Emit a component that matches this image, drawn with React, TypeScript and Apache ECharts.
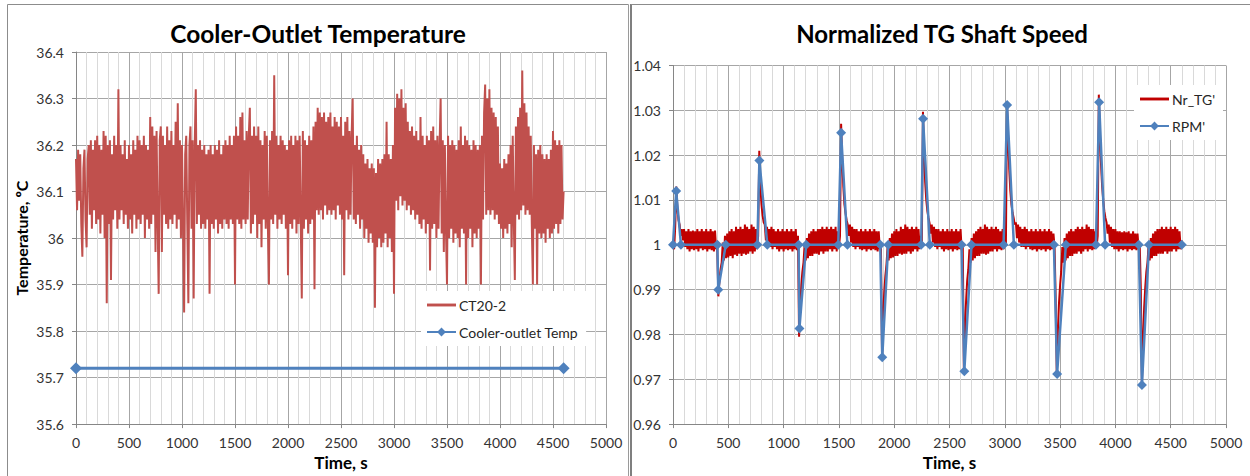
import React, { useEffect, useRef } from "react";
import * as echarts from "echarts";

// ---------- data ----------
const xTicks = { min: 0, max: 5000, interval: 500 };
const sampleStep = 10; // seconds between samples of the measured traces

// CT20-2 (°C), one sample every 10 s from t = 0 to 4600 s (rows of 100 s)
const ct20Values = [
  36.17, 36.06, 36.19, 36.08, 36.18, 36.03, 35.96, 36.15, 36.19, 36.04,
  35.98, 36.17, 36.2, 36.05, 36.21, 36.02, 36.19, 36.06, 36.21, 36.03,
  36.22, 36.04, 36.2, 36.01, 36.19, 36.05, 36.23, 36.0, 36.22, 35.86,
  36.2, 36.03, 36.21, 35.91, 36.18, 36.04, 36.22, 36.06, 36.2, 36.02,
  36.32, 36.04, 36.2, 36.06, 36.18, 36.03, 36.21, 36.05, 36.17, 36.02,
  36.2, 36.04, 36.18, 36.01, 36.21, 36.05, 36.19, 36.02, 36.22, 36.04,
  36.21, 36.03, 36.2, 36.05, 36.22, 36.0, 36.2, 36.04, 36.19, 36.02,
  36.26, 36.03, 36.24, 36.05, 36.22, 35.97, 36.23, 36.04, 35.88, 36.21,
  36.24, 35.97, 36.22, 36.05, 36.2, 36.03, 36.24, 36.02, 36.21, 36.04,
  36.23, 36.03, 36.2, 36.05, 36.25, 36.02, 36.29, 36.04, 36.21, 36.0,
  36.2, 36.02, 35.84, 36.18, 36.22, 36.03, 35.86, 36.2, 36.24, 36.02,
  36.21, 35.87, 36.2, 36.32, 36.03, 36.2, 36.05, 36.21, 36.02, 36.19,
  36.03, 36.2, 36.02, 36.18, 36.04, 36.19, 35.88, 36.2, 36.03, 36.18,
  36.02, 36.2, 36.04, 36.19, 36.01, 36.21, 36.03, 36.18, 36.02, 36.2,
  36.04, 36.21, 36.03, 36.2, 36.02, 36.22, 36.04, 36.2, 36.03, 36.22,
  35.9, 36.24, 36.04, 36.22, 36.03, 36.26, 36.02, 36.27, 36.04, 36.21,
  36.03, 36.23, 36.04, 36.22, 36.28, 36.01, 36.22, 36.03, 36.24, 36.05,
  36.22, 36.0, 36.24, 36.03, 36.21, 35.98, 36.2, 36.04, 36.23, 36.02,
  36.22, 36.03, 35.9, 36.21, 36.04, 36.23, 36.03, 36.35, 36.05, 36.22,
  36.02, 36.2, 36.04, 36.22, 36.03, 36.21, 36.05, 36.2, 36.02, 36.19,
  35.92, 36.21, 36.03, 36.22, 36.02, 36.2, 36.04, 36.22, 36.01, 36.21,
  36.03, 36.22, 36.04, 35.87, 36.23, 36.02, 36.21, 36.04, 36.2, 36.01,
  36.22, 36.03, 36.21, 36.04, 36.24, 35.89, 36.25, 36.06, 36.28, 36.05,
  36.27, 36.06, 36.26, 36.04, 36.27, 36.07, 36.25, 36.05, 36.26, 36.06,
  36.27, 36.05, 36.24, 36.06, 36.26, 36.04, 36.25, 36.07, 36.24, 36.05,
  36.26, 36.04, 36.22, 35.92, 36.25, 36.06, 36.26, 36.04, 36.23, 36.05,
  36.22, 36.3, 36.04, 36.2, 36.03, 36.22, 36.05, 36.19, 36.02, 36.2,
  36.04, 36.18, 36.0, 36.16, 36.02, 36.17, 35.99, 36.15, 36.01, 36.16,
  35.99, 36.15, 35.85, 36.14, 35.98, 36.17, 36.0, 36.16, 35.98, 36.17,
  35.99, 36.18, 36.01, 36.25, 35.98, 36.18, 36.0, 36.17, 35.97, 36.2,
  35.88, 36.28, 36.08, 36.31, 36.06, 36.3, 36.09, 36.32, 36.07, 36.28,
  36.08, 36.29, 36.06, 36.25, 36.07, 36.23, 36.05, 36.24, 36.06, 36.22,
  36.04, 36.23, 36.05, 36.21, 36.03, 36.26, 36.02, 36.22, 36.04, 36.2,
  36.01, 36.22, 36.03, 36.21, 35.93, 36.23, 36.02, 36.24, 36.03, 36.21,
  36.0, 36.22, 36.02, 36.2, 36.3, 36.01, 36.21, 35.97, 36.2, 36.02,
  35.9, 36.22, 36.0, 36.2, 36.02, 36.21, 35.99, 36.2, 36.01, 36.19,
  36.0, 36.21, 35.98, 36.24, 36.02, 36.2, 36.01, 36.22, 35.9, 36.21,
  36.0, 36.2, 36.02, 36.19, 35.98, 36.21, 36.01, 36.2, 36.0, 36.19,
  36.02, 36.2, 35.9, 36.22, 36.04, 36.27, 36.33, 36.05, 36.3, 36.06,
  36.32, 36.05, 36.28, 36.06, 36.27, 36.04, 36.26, 36.05, 36.24, 36.03,
  36.16, 36.02, 36.15, 36.0, 36.17, 36.02, 36.16, 36.01, 36.18, 36.03,
  36.2, 35.98, 36.22, 36.04, 35.91, 36.24, 36.05, 36.26, 36.04, 36.28,
  36.06, 36.36, 36.07, 36.29, 36.05, 36.27, 36.06, 36.24, 36.05, 36.22,
  36.03, 35.9, 36.2, 36.02, 36.18, 35.9, 36.19, 36.01, 36.2, 36.0,
  36.18, 36.01, 36.17, 35.99, 36.18, 36.02, 36.17, 36.0, 36.19, 36.01,
  36.23, 36.02, 36.21, 36.03, 36.2, 36.01, 36.21, 36.03, 36.2, 36.04,
  36.1,
];

// Cooler-outlet Temp (°C)
const coolerTimes = [0, 4600];
const coolerValues = [35.72, 35.72];

// Nr_TG' (normalised), one sample every 10 s from t = 0 to 4600 s (rows of 100 s)
const nrTgValues = [
  1.001, 0.999, 1.004, 1.013, 1.008, 1.0055, 1.0045, 1.002, 1.0035, 1.001,
  1.0035, 0.9995, 1.003, 0.999, 1.0035, 0.9985, 1.003, 0.999, 1.0032, 0.9988,
  1.003, 0.999, 1.0035, 0.9985, 1.003, 0.9992, 1.0035, 0.9988, 1.003, 0.999,
  1.0035, 0.9985, 1.003, 0.999, 1.0035, 0.9988, 1.003, 0.9985, 1.0032, 0.999,
  0.9995, 0.9885, 0.992, 0.9945, 0.996, 1.0005, 0.9965, 1.002, 0.997, 1.0025,
  0.9972, 1.003, 0.9975, 1.0035, 0.997, 1.003, 0.9978, 1.004, 0.9975, 1.0035,
  0.998, 1.004, 0.9975, 1.0035, 0.998, 1.0045, 0.9978, 1.004, 0.998, 1.0035,
  0.9985, 1.0045, 0.998, 1.004, 0.9985, 1.0035, 0.999, 1.002, 1.021, 1.013,
  1.009, 1.0065, 1.005, 1.0045, 1.001, 1.004, 1.0, 1.0035, 0.9995, 1.004,
  0.999, 1.0035, 0.9995, 1.003, 0.999, 1.0035, 0.9985, 1.003, 0.999, 1.0035,
  0.9985, 1.003, 0.999, 1.0035, 0.9988, 1.003, 0.999, 1.0035, 0.9985, 1.003,
  0.999, 1.0035, 0.9988, 1.002, 0.9795, 0.986, 0.991, 0.994, 0.996, 1.0,
  0.9965, 1.0015, 0.997, 1.0025, 0.9975, 1.003, 0.9975, 1.0035, 0.998, 1.003,
  0.998, 1.0035, 0.9978, 1.0035, 0.9985, 1.004, 0.998, 1.0035, 0.9985, 1.004,
  0.9985, 1.0035, 0.999, 1.004, 0.9985, 1.0035, 0.999, 1.004, 0.9985, 1.003,
  0.9995, 1.002, 1.027, 1.019, 1.013, 1.009, 1.007, 1.0055, 1.0045, 1.002,
  1.0045, 1.0005, 1.004, 0.9995, 1.0035, 0.999, 1.0035, 0.9995, 1.003, 0.999,
  1.0035, 0.9988, 1.003, 0.999, 1.0035, 0.9985, 1.003, 0.999, 1.0035, 0.9988,
  1.003, 0.999, 1.0035, 0.9988, 1.003, 0.9985, 1.003, 0.999, 1.0, 0.975,
  0.984, 0.9895, 0.993, 0.9955, 0.9995, 0.9965, 1.0015, 0.997, 1.0025, 0.9972,
  1.003, 0.9975, 1.0035, 0.9975, 1.003, 0.998, 1.004, 0.9978, 1.0035, 0.998,
  1.0045, 0.998, 1.004, 0.9985, 1.0035, 0.998, 1.004, 0.9985, 1.0035, 0.999,
  1.004, 0.9985, 1.0035, 0.999, 1.002, 1.0, 1.0297, 1.021, 1.014, 1.01,
  1.0075, 1.006, 1.0048, 1.0025, 1.0045, 1.0005, 1.004, 0.9995, 1.0035, 0.999,
  1.0035, 0.9995, 1.003, 0.999, 1.0035, 0.9985, 1.003, 0.999, 1.0035, 0.9988,
  1.003, 0.999, 1.0035, 0.9985, 1.003, 0.999, 1.0035, 0.9988, 1.003, 0.999,
  1.0035, 0.9988, 1.0, 0.972, 0.981, 0.9875, 0.992, 0.9945, 0.999, 0.996,
  1.0015, 0.9965, 1.0025, 0.997, 1.003, 0.9975, 1.0035, 0.9975, 1.004, 0.998,
  1.0035, 0.998, 1.0045, 0.9978, 1.004, 0.998, 1.0035, 0.9985, 1.004, 0.9985,
  1.0035, 0.999, 1.004, 0.9985, 1.0035, 0.999, 1.003, 0.9988, 1.0035, 0.999,
  1.002, 1.0, 1.031, 1.024, 1.017, 1.012, 1.009, 1.0072, 1.006, 1.0045,
  1.005, 1.0015, 1.0045, 1.0005, 1.004, 0.9995, 1.0035, 0.9995, 1.004, 0.999,
  1.0035, 0.9995, 1.003, 0.999, 1.0035, 0.9988, 1.003, 0.999, 1.0035, 0.9985,
  1.003, 0.999, 1.0035, 0.9988, 1.003, 0.999, 1.0035, 0.9985, 1.003, 0.999,
  1.0035, 0.9988, 1.003, 0.999, 1.0025, 0.9995, 0.988, 0.9712, 0.981, 0.987,
  0.991, 0.994, 0.9995, 0.996, 1.0015, 0.9965, 1.0025, 0.997, 1.003, 0.9975,
  1.0035, 0.9975, 1.003, 0.998, 1.0035, 0.998, 1.004, 0.9985, 1.0035, 0.998,
  1.004, 0.9985, 1.0035, 0.999, 1.0045, 0.9985, 1.004, 0.999, 1.0035, 0.9988,
  1.0035, 0.999, 1.003, 0.9995, 1.002, 1.0335, 1.025, 1.018, 1.013, 1.01,
  1.0075, 1.006, 1.005, 1.0025, 1.0045, 1.0005, 1.004, 0.9995, 1.0035, 0.999,
  1.0035, 0.999, 1.003, 0.9985, 1.003, 0.999, 1.0028, 0.9988, 1.003, 0.999,
  1.0028, 0.9985, 1.003, 0.999, 1.0025, 0.9988, 1.003, 0.999, 1.0025, 0.9988,
  1.0025, 0.999, 1.0, 0.99, 0.969, 0.979, 0.986, 0.9905, 0.994, 0.996,
  1.0, 0.9965, 1.0015, 0.997, 1.0025, 0.9975, 1.003, 0.9975, 1.0035, 0.998,
  1.0035, 0.998, 1.004, 0.998, 1.0035, 0.9985, 1.004, 0.998, 1.0035, 0.9985,
  1.004, 0.9985, 1.0035, 0.999, 1.004, 0.9985, 1.0035, 0.999, 1.003, 0.999,
  1.001,
];

// RPM' points (diamond markers)
const rpmTimes = [
  0, 29, 72, 401, 409, 477, 763, 781, 853, 1136, 1143, 1204, 1494, 1520, 1577,
  1874, 1892, 1946, 2244, 2261, 2322, 2609, 2634, 2699, 2989, 3021, 3082,
  3444, 3473, 3552, 3824, 3853, 3907, 4211, 4240, 4304, 4600,
];
const rpmValues = [
  1.0, 1.012, 1.0, 1.0, 0.99, 1.0, 1.0, 1.0188, 1.0, 1.0, 0.9813, 1.0, 1.0, 1.025, 1.0,
  1.0, 0.9749, 1.0, 1.0, 1.0281, 1.0, 1.0, 0.9718, 1.0, 1.0, 1.0312, 1.0,
  1.0, 0.9712, 1.0, 1.0, 1.0318, 1.0, 1.0, 0.9687, 1.0, 1.0,
];

const leftY = { min: 35.6, max: 36.4, interval: 0.1 };
const rightY = { min: 0.96, max: 1.04, interval: 0.01 };

// ---------- styling ----------
const FONT = "Lato, Carlito, Calibri, 'Liberation Sans', sans-serif";
const AXIS_COLOR = "#868686";
const MAJOR_GRID = "#a6a6a6";
const MINOR_GRID = "#d9d9d9";
const LABEL_COLOR = "#333333";
const LINE_ICON = "path://M0,0 L30,0 L30,3 L0,3 Z";

const plainNumber = (v: number) => String(v);

function xAxisCfg(gridIndex: number, nameGap: number) {
  return {
    type: "value",
    gridIndex,
    min: xTicks.min,
    max: xTicks.max,
    interval: xTicks.interval,
    axisLine: { show: true, onZero: false, lineStyle: { color: AXIS_COLOR } },
    axisTick: { show: true, length: 4, lineStyle: { color: AXIS_COLOR } },
    axisLabel: { fontSize: 14, color: LABEL_COLOR, margin: 11, fontFamily: FONT, formatter: plainNumber },
    splitLine: { show: true, lineStyle: { color: MAJOR_GRID, width: 1 } },
    minorTick: { show: false, splitNumber: 5 },
    minorSplitLine: { show: true, lineStyle: { color: MINOR_GRID, width: 1 } },
    name: "Time, s",
    nameLocation: "middle",
    nameGap,
    nameTextStyle: { fontSize: 17, fontWeight: "bold", color: "#000", fontFamily: FONT },
  };
}

function yAxisCfg(gridIndex: number, r: { min: number; max: number; interval: number }, name?: string) {
  return {
    type: "value",
    gridIndex,
    min: r.min,
    max: r.max,
    interval: r.interval,
    axisLine: { show: true, onZero: false, lineStyle: { color: AXIS_COLOR } },
    axisTick: { show: true, length: 4, lineStyle: { color: AXIS_COLOR } },
    axisLabel: { fontSize: 14, color: LABEL_COLOR, margin: 12, fontFamily: FONT },
    splitLine: { show: true, lineStyle: { color: MAJOR_GRID, width: 1 } },
    name: name || "",
    nameLocation: "middle",
    nameGap: 47,
    nameTextStyle: { fontSize: 16, fontWeight: "bold", color: "#000", fontFamily: FONT },
  };
}

const legendCommon = {
  orient: "vertical",
  padding: [7, 8, 7, 5],
  itemGap: 13,
  itemWidth: 29,
  itemHeight: 11,
  backgroundColor: "#ffffff",
  textStyle: { fontSize: 14, color: "#262626", fontFamily: FONT, padding: [0, 0, 0, -2] },
};

export default function App() {
  const ref = useRef<HTMLDivElement>(null);

  useEffect(() => {
    if (!ref.current) return;
    const chart = echarts.init(ref.current, undefined, { renderer: "svg" });

    const ct20Data = ct20Values.map((v, i) => [i * sampleStep, v]);
    const nrTgData = nrTgValues.map((v, i) => [i * sampleStep, v]);
    const coolerData = coolerTimes.map((t, i) => [t, coolerValues[i]]);
    const rpmData = rpmTimes.map((t, i) => [t, rpmValues[i]]);

    const option = {
      animation: false,
      backgroundColor: "#ffffff",
      textStyle: { fontFamily: FONT },
      grid: [
        { left: 76, top: 52, width: 530, height: 378 },
        { left: 673, top: 65.5, width: 553, height: 363 },
      ],
      xAxis: [xAxisCfg(0, 26), xAxisCfg(1, 28)],
      yAxis: [yAxisCfg(0, leftY, "Temperature, ºC"), yAxisCfg(1, rightY)],
      legend: [
        {
          ...legendCommon,
          data: [{ name: "CT20-2", icon: LINE_ICON }, { name: "Cooler-outlet Temp" }],
          left: 421,
          top: 291,
        },
        {
          ...legendCommon,
          data: [{ name: "Nr_TG'", icon: LINE_ICON }, { name: "RPM'" }],
          left: 1134,
          top: 85,
        },
      ],
      series: [
        {
          name: "CT20-2",
          type: "line",
          xAxisIndex: 0,
          yAxisIndex: 0,
          data: ct20Data,
          symbol: "none",
          showSymbol: false,
          lineStyle: { color: "#C0504D", width: 2 },
          itemStyle: { color: "#C0504D" },
        },
        {
          name: "Cooler-outlet Temp",
          type: "line",
          xAxisIndex: 0,
          yAxisIndex: 0,
          data: coolerData,
          symbol: "diamond",
          symbolSize: 12,
          lineStyle: { color: "#4F81BD", width: 3 },
          itemStyle: { color: "#4F81BD" },
        },
        {
          name: "Nr_TG'",
          type: "line",
          xAxisIndex: 1,
          yAxisIndex: 1,
          data: nrTgData,
          symbol: "none",
          showSymbol: false,
          lineStyle: { color: "#C00000", width: 2 },
          itemStyle: { color: "#C00000" },
        },
        {
          name: "RPM'",
          type: "line",
          xAxisIndex: 1,
          yAxisIndex: 1,
          data: rpmData,
          symbol: "diamond",
          symbolSize: 10,
          lineStyle: { color: "#4F81BD", width: 2.5 },
          itemStyle: { color: "#4F81BD" },
        },
      ],
      graphic: [
        { type: "line", shape: { x1: 7.5, y1: 4.5, x2: 7.5, y2: 476 }, style: { stroke: "#8c8c8c", lineWidth: 1 } },
        { type: "line", shape: { x1: 7.5, y1: 4.5, x2: 628.5, y2: 4.5 }, style: { stroke: "#8c8c8c", lineWidth: 1 } },
        { type: "line", shape: { x1: 628.5, y1: 4.5, x2: 628.5, y2: 476 }, style: { stroke: "#9a9a9a", lineWidth: 1 } },
        { type: "line", shape: { x1: 631, y1: 4, x2: 631, y2: 476 }, style: { stroke: "#7f7f7f", lineWidth: 2 } },
        { type: "line", shape: { x1: 631, y1: 4.5, x2: 1250, y2: 4.5 }, style: { stroke: "#8c8c8c", lineWidth: 1 } },
        {
          type: "text",
          x: 318,
          y: 33,
          style: {
            text: "Cooler-Outlet Temperature",
            align: "center",
            verticalAlign: "middle",
            fill: "#000",
            font: `bold 24.5px ${FONT}`,
          },
        },
        {
          type: "text",
          x: 942,
          y: 33,
          style: {
            text: "Normalized TG Shaft Speed",
            align: "center",
            verticalAlign: "middle",
            fill: "#000",
            font: `bold 24px ${FONT}`,
          },
        },
      ],
    };

    chart.setOption(option as any);
    return () => chart.dispose();
  }, []);

  return (
    <div
      ref={ref}
      style={{ position: "absolute", left: 0, top: 0, width: 1250, height: 476, background: "#fff" }}
    />
  );
}
